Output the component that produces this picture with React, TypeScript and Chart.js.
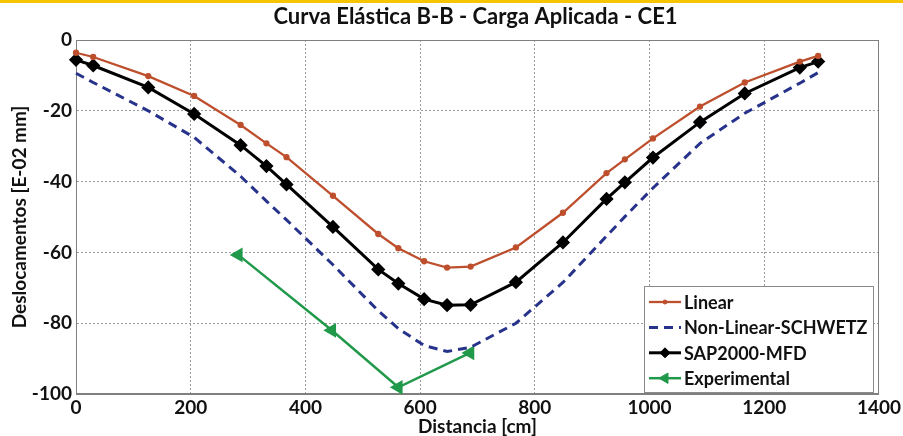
import React, { useEffect, useRef } from "react";
import { Chart, registerables } from "chart.js";

Chart.register(...registerables);

// ---- data ----
const distance = [0, 30, 126, 206, 287, 332, 367, 448, 527, 562, 607, 647, 688, 767, 849, 925, 957, 1006, 1088, 1166, 1262, 1294];
const linear = [-3.6, -4.8, -10.2, -15.8, -24, -29.2, -33.1, -44, -54.8, -58.8, -62.5, -64.3, -64, -58.6, -48.8, -37.6, -33.7, -27.8, -18.8, -12, -6.1, -4.5];
const nonLinear = [-9.4, -12, -20, -27.5, -38.5, -45.5, -50.8, -63.5, -76.5, -81.5, -86.3, -88, -86.8, -80, -68.5, -55.4, -49.9, -41.8, -29.2, -20.7, -12.2, -9.2];
const sap2000 = [-5.6, -7.2, -13.4, -20.9, -29.7, -35.6, -40.8, -52.8, -64.8, -68.8, -73.2, -74.9, -74.8, -68.4, -57.2, -44.9, -40.2, -33.2, -23.2, -15.1, -7.8, -6.1];
const expDistance = [283, 446, 562, 687];
const experimental = [-60.7, -82, -98.1, -88.4];

const seriesLabels = ["Linear", "Non-Linear-SCHWETZ", "SAP2000-MFD", "Experimental"];
const titleText = "Curva Elástica B-B - Carga Aplicada - CE1";
const xTitle = "Distancia [cm]";
const yTitle = "Deslocamentos [E-02 mm]";
const xRange = [0, 1400, 200];
const yRange = [-100, 0, 20];

const FONT = "Lato, 'Open Sans', sans-serif";
const C_LIN = "#bd4f2d";
const C_NL = "#27338b";
const C_SAP = "#000000";
const C_EXP = "#21994a";

function pts(xs: number[], ys: number[]) {
  return xs.map((x, i) => ({ x, y: ys[i] }));
}

function drawMarker(ctx: CanvasRenderingContext2D, style: string, x: number, y: number, r: number, color: string) {
  ctx.save();
  ctx.fillStyle = color;
  ctx.strokeStyle = color;
  ctx.lineWidth = 1;
  ctx.setLineDash([]);
  ctx.beginPath();
  if (style === "circle") {
    ctx.arc(x, y, r, 0, Math.PI * 2);
  } else if (style === "rectRot") {
    ctx.moveTo(x, y - r);
    ctx.lineTo(x + r, y);
    ctx.lineTo(x, y + r);
    ctx.lineTo(x - r, y);
    ctx.closePath();
  } else if (style === "triangle") {
    // pointing left
    ctx.moveTo(x - r, y);
    ctx.lineTo(x + r * 0.5, y - r * 0.866);
    ctx.lineTo(x + r * 0.5, y + r * 0.866);
    ctx.closePath();
  }
  if (style !== "none") {
    ctx.fill();
    ctx.stroke();
  }
  ctx.restore();
}

const framePlugin = {
  id: "frame",
  beforeDatasetsDraw(chart: any) {
    const { ctx, chartArea: a } = chart;
    ctx.save();
    ctx.strokeStyle = "#7f7f7f";
    ctx.lineWidth = 1;
    ctx.setLineDash([]);
    ctx.strokeRect(Math.round(a.left) + 0.5, Math.round(a.top) + 0.5, Math.round(a.right - a.left) - 1, Math.round(a.bottom - a.top) - 1);
    ctx.restore();
  },
  afterDraw(chart: any) {
    const { ctx, chartArea: a } = chart;
    ctx.save();
    ctx.fillStyle = "#111111";
    ctx.font = `bold 22px ${FONT}`;
    ctx.textAlign = "center";
    ctx.textBaseline = "middle";
    ctx.fillText(titleText, (a.left + a.right) / 2 - 2, 17);
    ctx.restore();
  },
};

const legendPlugin = {
  id: "insideLegend",
  afterDatasetsDraw(chart: any) {
    const { ctx, chartArea: a } = chart;
    const w = 229;
    const h = 106;
    const left = Math.round(a.right - 6 - w);
    const top = Math.round(a.bottom - 2 - h);
    ctx.save();
    ctx.fillStyle = "#ffffff";
    ctx.fillRect(left, top, w, h);
    ctx.strokeStyle = "#8a8a8a";
    ctx.lineWidth = 1;
    ctx.strokeRect(left + 0.5, top + 0.5, w, h);
    const ds = chart.data.datasets;
    ds.forEach((d: any, i: number) => {
      const y = top + 16 + i * 25.4;
      ctx.save();
      ctx.strokeStyle = d.borderColor;
      ctx.lineWidth = d.borderWidth;
      ctx.setLineDash(d.borderDash || []);
      ctx.beginPath();
      ctx.moveTo(left + 5, y);
      ctx.lineTo(left + 37, y);
      ctx.stroke();
      ctx.restore();
      if (d.pointRadius > 0) {
        drawMarker(ctx, d.pointStyle, left + 21, y, d.pointRadius, d.borderColor);
      }
      ctx.fillStyle = "#111111";
      ctx.font = `bold 18px ${FONT}`;
      ctx.textBaseline = "middle";
      ctx.textAlign = "left";
      ctx.fillText(d.label, left + 40, y + 1);
    });
    ctx.restore();
  },
};

export default function App() {
  const ref = useRef<HTMLCanvasElement | null>(null);

  useEffect(() => {
    document.body.style.margin = "0";
    if (!ref.current) return;
    const tickFont = { family: FONT, size: 19, weight: "bold" as const };
    const chart = new Chart(ref.current, {
      type: "line",
      data: {
        datasets: [
          {
            label: seriesLabels[0],
            data: pts(distance, linear),
            borderColor: C_LIN,
            backgroundColor: C_LIN,
            borderWidth: 2.3,
            pointStyle: "circle",
            pointRadius: 2,
            tension: 0,
            clip: false,
          } as any,
          {
            label: seriesLabels[1],
            data: pts(distance, nonLinear),
            borderColor: C_NL,
            backgroundColor: C_NL,
            borderWidth: 3,
            borderDash: [9, 6],
            pointRadius: 0,
            pointStyle: "none",
            tension: 0,
            clip: false,
          } as any,
          {
            label: seriesLabels[2],
            data: pts(distance, sap2000),
            borderColor: C_SAP,
            backgroundColor: C_SAP,
            borderWidth: 3,
            pointStyle: "rectRot",
            pointRadius: 5,
            tension: 0,
            clip: false,
          } as any,
          {
            label: seriesLabels[3],
            data: pts(expDistance, experimental),
            borderColor: C_EXP,
            backgroundColor: C_EXP,
            borderWidth: 2.5,
            pointStyle: "triangle",
            pointRotation: -90,
            pointRadius: 6,
            tension: 0,
            clip: false,
          } as any,
        ],
      },
      options: {
        responsive: false,
        animation: false,
        events: [],
        layout: { padding: { left: 0, right: 24, top: 40, bottom: 0 } },
        plugins: {
          legend: { display: false },
          tooltip: { enabled: false },
          title: { display: false },
        },
        scales: {
          x: {
            type: "linear",
            min: xRange[0],
            max: xRange[1],
            ticks: {
              stepSize: xRange[2],
              color: "#111111",
              font: tickFont,
              padding: 2,
              maxRotation: 0,
              callback: (v: any) => String(v),
            },
            grid: { color: "#9c9c9c", lineWidth: 1, drawTicks: false },
            border: { color: "#7f7f7f", width: 1, dash: [2, 2] },
            title: {
              display: true,
              text: xTitle,
              color: "#111111",
              font: { family: FONT, size: 19, weight: "bold", lineHeight: 1 },
              padding: { top: 0, bottom: 0 },
            },
            afterFit(s: any) {
              s.height = 42;
            },
          },
          y: {
            type: "linear",
            min: yRange[0],
            max: yRange[1],
            ticks: {
              stepSize: yRange[2],
              color: "#111111",
              font: tickFont,
              padding: 4,
              callback: (v: any) => String(v),
            },
            grid: { color: "#9c9c9c", lineWidth: 1, drawTicks: false },
            border: { color: "#7f7f7f", width: 1, dash: [2, 2] },
            title: {
              display: true,
              text: yTitle,
              color: "#111111",
              font: { family: FONT, size: 19, weight: "bold", lineHeight: 1 },
              padding: { top: 10.5, bottom: 0 },
            },
            afterFit(s: any) {
              s.width = 76;
            },
          },
        },
      } as any,
      plugins: [framePlugin, legendPlugin],
    });
    return () => chart.destroy();
  }, []);

  return (
    <div style={{ position: "relative", width: 903, height: 436, background: "#ffffff" }}>
      <canvas ref={ref} width={903} height={436} style={{ display: "block" }} />
      <div style={{ position: "absolute", left: 0, top: 0, width: 903, height: 3, background: "#f6c400" }} />
    </div>
  );
}
